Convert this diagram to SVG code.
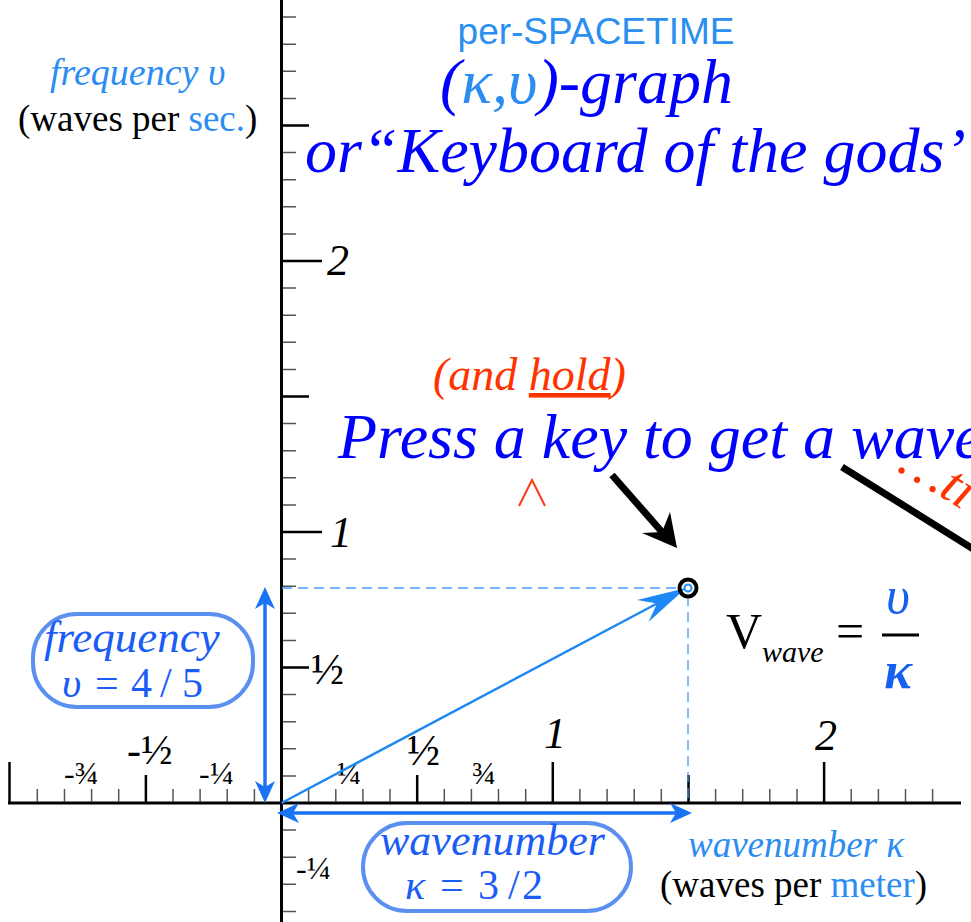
<svg xmlns="http://www.w3.org/2000/svg" width="971" height="922" viewBox="0 0 971 922">
<style>
.serif{font-family:"Liberation Serif","Times New Roman",serif}
.it{font-style:italic}
.sans{font-family:"Liberation Sans",Arial,sans-serif}
.dblue{fill:#0000ff}
.lblue{fill:#2b8cf2}
.mblue{fill:#1a5cf5}
.red{fill:#ff3300}
.blk{fill:#000}
.tkS{stroke:#555;stroke-width:1.5;fill:none}
.tkL{stroke:#000;stroke-width:2.5;fill:none}
.axis{stroke:#000;stroke-width:3;fill:none}
.box{fill:none;stroke:#5b8ff0;stroke-width:4}
.dash{stroke:#4a9af5;stroke-width:1.3;stroke-dasharray:10 6;fill:none}
.barrow{stroke:#1a73f5;stroke-width:3.5;fill:none}
.bhead{fill:#1a73f5}
</style>
<rect width="971" height="922" fill="#fff"/>

<g id="axes">
<path class="axis" d="M281.5,0 V922 M8,803 H961"/>
<path class="tkS" d="M283,775.9H296M283,748.8H296M283,721.7H296M283,694.6H296M283,640.4H296M283,613.3H296M283,586.2H296M283,559.1H296M283,504.9H296M283,477.8H296M283,450.7H296M283,423.6H296M283,369.4H296M283,342.3H296M283,315.2H296M283,288.1H296M283,233.9H296M283,206.8H296M283,179.7H296M283,152.6H296M283,98.4H296M283,71.3H296M283,44.2H296M283,17.1H296M283,830.1H296M283,857.2H296M283,884.3H296M283,911.4H296"/>
<path class="tkL" d="M283,667.5H309M283,396.5H309M283,125.5H309M283,532H322M283,261H322"/>
<path class="tkS" d="M37.3,789V802M64.5,789V802M91.6,789V802M118.7,789V802M173,789V802M200.1,789V802M227.2,789V802M254.4,789V802M308.6,789V802M335.8,789V802M362.9,789V802M390,789V802M444.3,789V802M471.4,789V802M498.5,789V802M525.7,789V802M579.9,789V802M607.1,789V802M634.2,789V802M661.3,789V802M715.6,789V802M742.7,789V802M769.8,789V802M797,789V802M851.2,789V802M878.4,789V802M905.5,789V802M932.6,789V802"/>
<path class="tkL" d="M9.5,762V802M145.9,775V802M417.2,775V802M552.8,762V802M688.5,775V802M824.1,762V802"/>
</g>

<g id="axis-labels" class="serif blk">
<text x="327" y="275" class="it" font-size="44">2</text>
<text x="330" y="547" class="it" font-size="44">1</text>
<text x="311" y="684" font-size="44">½</text>
<text x="555" y="748" class="it" font-size="44" text-anchor="middle">1</text>
<text x="826" y="750" class="it" font-size="44" text-anchor="middle">2</text>
<text x="407" y="765" font-size="44">½</text>
<text x="337" y="784" font-size="32">¼</text>
<text x="472" y="784" font-size="32">¾</text>
<text x="64" y="784" font-size="32">-¾</text>
<text x="127" y="764" font-size="42">-½</text>
<text x="199" y="784" font-size="32">-¼</text>
<text x="296" y="879" font-size="32">-¼</text>
</g>

<g id="title">
<text x="596" y="44" class="sans" font-size="37" text-anchor="middle" fill="#2a8ff0">per-SPACETIME</text>
<text x="440" y="103" class="serif it dblue" font-size="64">(<tspan class="lblue">κ,υ</tspan>)-graph</text>
<text x="305" y="172" class="serif it dblue" font-size="64">or“Keyboard of the gods’</text>
</g>

<g id="y-axis-title" class="serif">
<text x="50" y="85" class="it lblue" font-size="38">frequency υ</text>
<text x="18" y="131" class="blk" font-size="37">(waves per <tspan class="lblue">sec.</tspan>)</text>
</g>

<g id="x-axis-title" class="serif">
<text x="688" y="857" class="it lblue" font-size="37">wavenumber κ</text>
<text x="660" y="897" class="blk" font-size="37">(waves per <tspan class="lblue">meter</tspan>)</text>
</g>

<g id="instruction" class="serif it">
<text x="433" y="390" class="red" font-size="46">(and <tspan text-decoration="underline">hold</tspan>)</text>
<text x="338" y="458" class="dblue" font-size="64">Press a key to get a wave</text>
<polyline points="519,506 532,480 545,506" fill="none" stroke="#ff3a1a" stroke-width="2"/>
<text transform="translate(896,470) rotate(31)" class="red" font-size="54">…ti</text>
</g>

<g id="connectors">
<path class="dash" d="M282,588 H680 M688,596 V803"/>
<path d="M281.5,803 L657,603.5" stroke="#1e88f5" stroke-width="2.5" fill="none"/>
<path d="M686,588 L637,600 L657,603.5 L648.5,622 Z" fill="#1e88f5"/>
<path d="M612,475 L662,532" stroke="#000" stroke-width="7" fill="none"/>
<path d="M677,548 L642,533 L662,532 L670,512 Z" fill="#000"/>
<path d="M842,467 L975,550" stroke="#000" stroke-width="7" fill="none"/>
<path class="barrow" d="M265,603 V787"/>
<path class="bhead" d="M265,587 L255,609 L265,603 L275,609 Z M265,803 L255,781 L265,787 L275,781 Z"/>
<path class="barrow" d="M293,813 H676"/>
<path class="bhead" d="M277,813 L299,803 L293,813 L299,823 Z M692,813 L670,803 L676,813 L670,823 Z"/>
</g>

<g id="wave-point">
<circle cx="688" cy="588" r="8.5" fill="none" stroke="#000" stroke-width="4"/>
<circle cx="688" cy="588" r="3.5" fill="#fff" stroke="#1e90ff" stroke-width="2"/>
</g>

<g id="frequency-box" class="serif">
<rect class="box" x="33" y="614" width="220" height="93" rx="44"/>
<text x="44" y="652" class="it mblue" font-size="45">frequency</text>
<text y="697" class="mblue" font-size="42"><tspan x="62" class="it">υ</tspan><tspan x="95">=</tspan><tspan x="131">4</tspan><tspan x="160">/</tspan><tspan x="182">5</tspan></text>
</g>

<g id="wavenumber-box" class="serif">
<rect class="box" x="363" y="823" width="268" height="88" rx="44"/>
<text x="380" y="855" class="it mblue" font-size="44">wavenumber</text>
<text y="899" class="mblue" font-size="42"><tspan x="405" class="it">κ</tspan><tspan x="440">=</tspan><tspan x="478">3</tspan><tspan x="508">/</tspan><tspan x="522">2</tspan></text>
</g>

<g id="formula" class="serif">
<text x="726" y="648" class="blk" font-size="50">V</text>
<text x="762" y="662" class="it blk" font-size="30">wave</text>
<text x="836" y="648" class="blk" font-size="50">=</text>
<line x1="882" y1="635" x2="919" y2="635" stroke="#000" stroke-width="3"/>
<text x="898" y="613" class="it" fill="#1560f0" font-size="52" text-anchor="middle">υ</text>
<text x="898" y="688" class="it" fill="#1560f0" font-size="52" font-weight="bold" text-anchor="middle">κ</text>
</g>
</svg>
